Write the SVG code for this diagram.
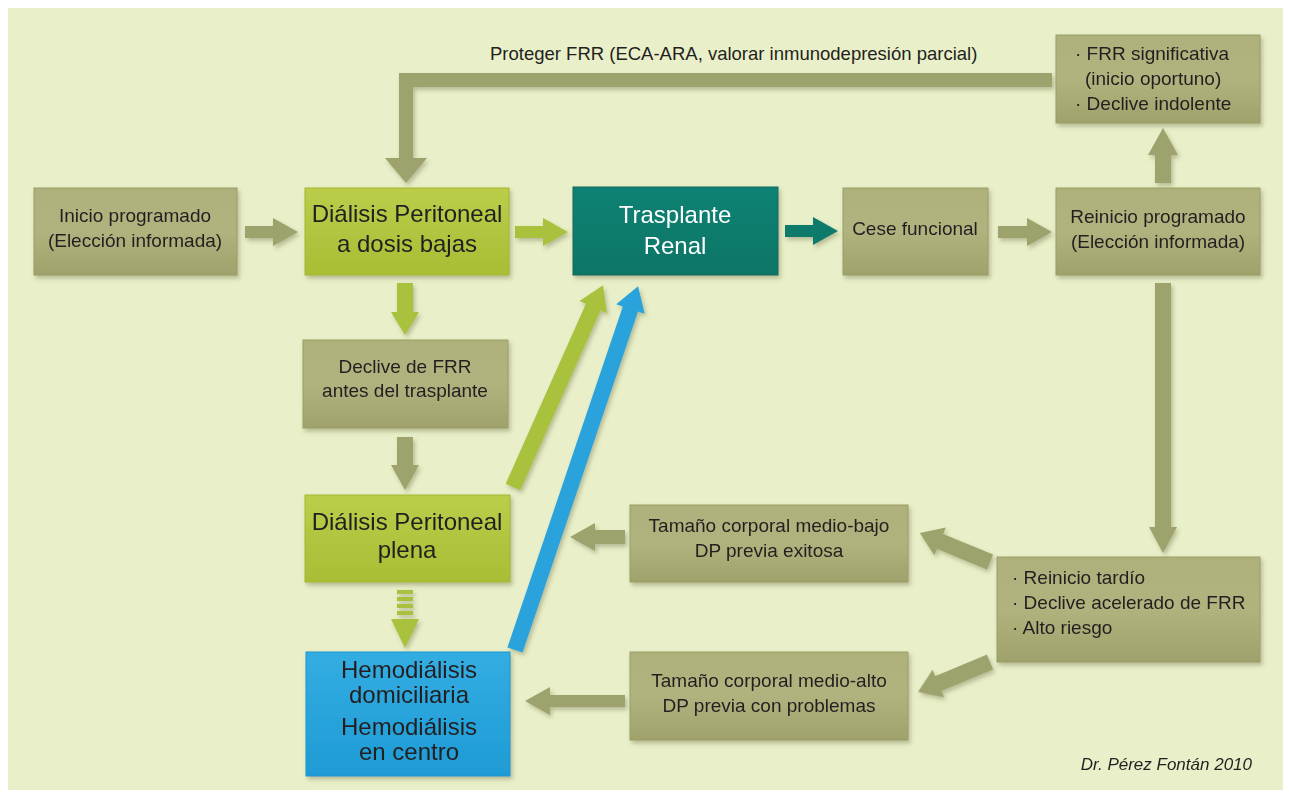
<svg xmlns="http://www.w3.org/2000/svg" width="1289" height="796" viewBox="0 0 1289 796">
<defs>
<linearGradient id="gOlive" x1="0" y1="0" x2="0" y2="1"><stop offset="0" stop-color="#aeb17b"/><stop offset="0.5" stop-color="#b1b37e"/><stop offset="1" stop-color="#9fa26b"/></linearGradient>
<linearGradient id="gGreen" x1="0" y1="0" x2="0" y2="1"><stop offset="0" stop-color="#bccd4a"/><stop offset="1" stop-color="#aabd35"/></linearGradient>
<linearGradient id="gTeal" x1="0" y1="0" x2="0" y2="1"><stop offset="0" stop-color="#0d8274"/><stop offset="1" stop-color="#097566"/></linearGradient>
<linearGradient id="gBlue" x1="0" y1="0" x2="0" y2="1"><stop offset="0" stop-color="#33ade2"/><stop offset="1" stop-color="#1f9bd5"/></linearGradient>
<filter id="sh" x="-10%" y="-10%" width="125%" height="130%"><feDropShadow dx="2" dy="3" stdDeviation="2" flood-color="#5a5c30" flood-opacity="0.35"/></filter>
</defs>
<style>
.t{font-family:"Liberation Sans",Arial,sans-serif;fill:#231f20;font-size:19px}
.big{font-size:24px}
.w{fill:#ffffff}
.c{text-anchor:middle}
.olive{fill:url(#gOlive);stroke:#9a9d66;stroke-width:1}
.green{fill:url(#gGreen);stroke:#a4b732;stroke-width:1}
.teal{fill:url(#gTeal);stroke:#086b5e;stroke-width:1}
.blue{fill:url(#gBlue);stroke:#1c93cc;stroke-width:1}
.aO{fill:#9ea26c}
.aG{fill:#a9c23c}
.aT{fill:#0e7a6c}
.aB{fill:#2ba3dc}
</style>
<rect x="0" y="0" width="1289" height="796" fill="#ffffff"/>
<rect x="8" y="8" width="1275" height="782" fill="#e9f0c9"/>

<g id="connectors" filter="url(#sh)">
  <path class="aO" d="M1052,73 L1052,87 L413,87 L413,158 L427,158 L406,183 L385,158 L399,158 L399,73 Z"/>
  <path class="aO" d="M245,226 L273,226 L273,218 L298,232 L273,246 L273,238 L245,238 Z"/>
  <path class="aG" d="M515,226 L543,226 L543,218 L568,232 L543,246 L543,238 L515,238 Z"/>
  <path class="aT" d="M785,225 L813,225 L813,217 L838,231 L813,245 L813,237 L785,237 Z"/>
  <path class="aO" d="M998,226 L1027,226 L1027,218 L1052,232 L1027,246 L1027,238 L998,238 Z"/>
  <path class="aO" d="M1155,183 L1155,155 L1148,155 L1163,128 L1178,155 L1171,155 L1171,183 Z"/>
  <path class="aO" d="M1155,283 L1155,527 L1149,527 L1163,553 L1177,527 L1171,527 L1171,283 Z"/>
  <path class="aG" d="M397,283 L397,312 L391,312 L405,335 L419,312 L413,312 L413,283 Z"/>
  <path class="aO" d="M397,437 L397,465 L391,465 L405,490 L419,465 L413,465 L413,437 Z"/>
  <g class="aG">
    <rect x="397" y="590" width="16" height="4"/>
    <rect x="397" y="597" width="16" height="4"/>
    <rect x="397" y="604" width="16" height="4"/>
    <rect x="397" y="611" width="16" height="4"/>
    <path d="M391,619 L419,619 L405,648 Z"/>
  </g>
  <path class="aG" transform="translate(513,487) rotate(-65.98)" d="M0,-8 L197,-8 L197,-15 L221,0 L197,15 L197,8 L0,8 Z"/>
  <path class="aB" transform="translate(515,650) rotate(-71.3)" d="M0,-8 L360,-8 L360,-15 L384,0 L360,15 L360,8 L0,8 Z"/>
  <path class="aO" d="M625,530 L595,530 L595,523 L570,537 L595,551 L595,544 L625,544 Z"/>
  <path class="aO" d="M625,695 L550,695 L550,687 L525,701 L550,715 L550,707 L625,707 Z"/>
  <path class="aO" transform="translate(990,562) rotate(-157.5)" d="M0,-8 L54,-8 L54,-15 L76,0 L54,15 L54,8 L0,8 Z"/>
  <path class="aO" transform="translate(990,662) rotate(157.4)" d="M0,-8 L56,-8 L56,-15 L78,0 L56,15 L56,8 L0,8 Z"/>
</g>
<text class="t" x="490" y="60" style="font-size:18.5px">Proteger FRR (ECA-ARA, valorar inmunodepresión parcial)</text>

<g id="inicio"><rect class="olive" x="34" y="188" width="203" height="87" filter="url(#sh)"/>
<text class="t c" x="135" y="222">Inicio programado</text><text class="t c" x="135" y="247">(Elección informada)</text></g>

<g id="dp-bajas"><rect class="green" x="305" y="188" width="204" height="87" filter="url(#sh)"/>
<text class="t big c" x="407" y="222">Diálisis Peritoneal</text><text class="t big c" x="407" y="252">a dosis bajas</text></g>

<g id="trasplante"><rect class="teal" x="573" y="187" width="205" height="88" filter="url(#sh)"/>
<text class="t big c w" x="675" y="223">Trasplante</text><text class="t big c w" x="675" y="254">Renal</text></g>

<g id="cese"><rect class="olive" x="843" y="188" width="145" height="87" filter="url(#sh)"/>
<text class="t c" x="915" y="235">Cese funcional</text></g>

<g id="reinicio"><rect class="olive" x="1056" y="188" width="204" height="87" filter="url(#sh)"/>
<text class="t c" x="1158" y="223">Reinicio programado</text><text class="t c" x="1158" y="248">(Elección informada)</text></g>

<g id="frr-sig"><rect class="olive" x="1056" y="35" width="204" height="88" filter="url(#sh)"/>
<text class="t" x="1075" y="60">· FRR significativa</text><text class="t" x="1085" y="85">(inicio oportuno)</text><text class="t" x="1075" y="110">· Declive indolente</text></g>

<g id="declive"><rect class="olive" x="303" y="340" width="205" height="88" filter="url(#sh)"/>
<text class="t c" x="405" y="373">Declive de FRR</text><text class="t c" x="405" y="397">antes del trasplante</text></g>

<g id="dp-plena"><rect class="green" x="305" y="495" width="205" height="87" filter="url(#sh)"/>
<text class="t big c" x="407" y="530">Diálisis Peritoneal</text><text class="t big c" x="407" y="558">plena</text></g>

<g id="hemodialisis"><rect class="blue" x="306" y="652" width="204" height="124" filter="url(#sh)"/>
<text class="t big c" x="409" y="678">Hemodiálisis</text><text class="t big c" x="409" y="703">domiciliaria</text><text class="t big c" x="409" y="735">Hemodiálisis</text><text class="t big c" x="409" y="760">en centro</text></g>

<g id="medio-bajo"><rect class="olive" x="630" y="505" width="278" height="77" filter="url(#sh)"/>
<text class="t c" x="769" y="532">Tamaño corporal medio-bajo</text><text class="t c" x="769" y="557">DP previa exitosa</text></g>

<g id="tardio"><rect class="olive" x="997" y="557" width="263" height="105" filter="url(#sh)"/>
<text class="t" x="1012" y="584">· Reinicio tardío</text><text class="t" x="1012" y="609">· Declive acelerado de FRR</text><text class="t" x="1012" y="634">· Alto riesgo</text></g>

<g id="medio-alto"><rect class="olive" x="630" y="652" width="278" height="88" filter="url(#sh)"/>
<text class="t c" x="769" y="687">Tamaño corporal medio-alto</text><text class="t c" x="769" y="712">DP previa con problemas</text></g>

<text class="t" x="1252" y="770" text-anchor="end" style="font-size:17px;font-style:italic">Dr. Pérez Fontán 2010</text>
</svg>
